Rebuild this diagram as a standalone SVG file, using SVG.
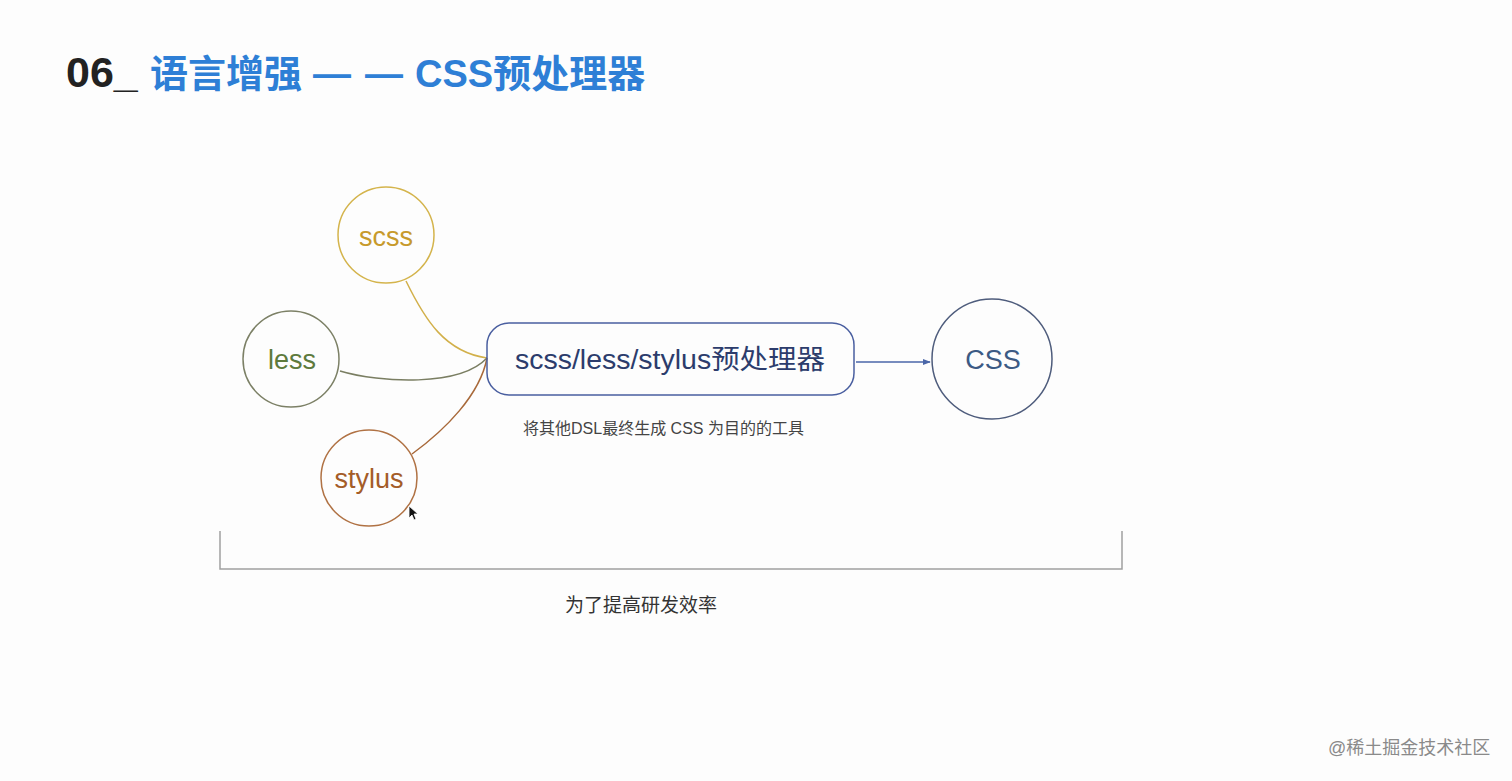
<svg xmlns="http://www.w3.org/2000/svg" width="1512" height="781" viewBox="0 0 1512 781">
<style>
.cjk{font-family:"Liberation Sans","Noto Sans CJK SC",sans-serif}
.node{fill:none;stroke-width:1.5}
.lbl{font-family:"Liberation Sans","Noto Sans CJK SC",sans-serif;font-size:27px;text-anchor:middle}
.conn{fill:none;stroke-width:1.5}
</style>
<defs>
<marker id="arr" viewBox="0 0 10 10" refX="9" refY="5" markerWidth="8" markerHeight="8" markerUnits="userSpaceOnUse" orient="auto">
<path d="M0,1 L10,5 L0,9 Z" fill="#4a66a8"/>
</marker>
</defs>
<rect width="1512" height="781" fill="#fdfdfd"/>
<g id="title">
<text x="66" y="87" class="cjk" font-size="43" font-weight="bold" fill="#222">06_</text>
<text y="87" class="cjk" font-size="38" font-weight="bold" fill="#2e7fd6"><tspan x="150">语言增强</tspan><tspan x="313">—</tspan><tspan x="365">—</tspan><tspan x="415">CSS预处理器</tspan></text>
</g>
<g id="connectors">
<path class="conn" stroke="#d2b04a" d="M406,281 C425,320 445,352 487,358"/>
<path class="conn" stroke="#7a7e62" d="M340,371 C380,383 460,387 487,358"/>
<path class="conn" stroke="#a8693a" d="M412,454 C445,430 480,395 487,358"/>
<path class="conn" stroke="#4a66a8" d="M856,362 L930,362" marker-end="url(#arr)"/>
</g>
<g id="scss">
<circle class="node" cx="386" cy="235" r="48" stroke="#d4b44c"/>
<text x="386" y="246" class="lbl" fill="#c79a2c">scss</text>
</g>
<g id="less">
<circle class="node" cx="291" cy="359" r="48" stroke="#7c8066"/>
<text x="292" y="369" class="lbl" font-size="28" fill="#5e7a3c">less</text>
</g>
<g id="stylus">
<circle class="node" cx="369" cy="478" r="48" stroke="#b07244"/>
<text x="369" y="488" class="lbl" fill="#a45c28">stylus</text>
</g>
<g id="preprocessor">
<rect x="487" y="323" width="367" height="72" rx="22" fill="none" stroke="#4a5fa0" stroke-width="1.5"/>
<text x="670" y="369" class="lbl" font-size="28" fill="#2c3c6c" textLength="310" lengthAdjust="spacingAndGlyphs">scss/less/stylus预处理器</text>
</g>
<g id="css">
<circle class="node" cx="992" cy="359" r="60" stroke="#4e5c7c"/>
<text x="993" y="369" class="lbl" font-size="28" fill="#3c5a84">CSS</text>
</g>
<g id="desc">
<text x="523" y="434" class="cjk" font-size="16" fill="#444">将其他DSL最终生成 CSS 为目的的工具</text>
</g>
<g id="bracket">
<path d="M220,531 V569 H1122 V531" fill="none" stroke="#a0a0a0" stroke-width="1.5"/>
<text x="641" y="612" class="cjk" font-size="19" fill="#333" text-anchor="middle">为了提高研发效率</text>
</g>
<g id="cursor">
<path d="M409,506 L409,518 L412,515 L414,520 L416,519 L414,514 L418,514 Z" fill="#111" stroke="#fff" stroke-width="0.8"/>
</g>
<g id="watermark">
<text x="1328" y="754" class="cjk" font-size="18" fill="#8a8a8a">@稀土掘金技术社区</text>
</g>
</svg>
